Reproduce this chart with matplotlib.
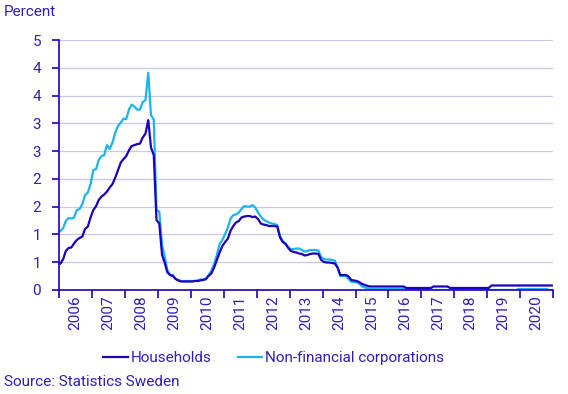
import pandas as pd
import matplotlib.pyplot as plt
import matplotlib.dates as mdates
from matplotlib.ticker import FixedLocator, FormatStrFormatter

plt.rcParams['font.family'] = ['Roboto', 'DejaVu Sans']

# monthly deposit rates, Jan 2006 - Dec 2020
months = pd.date_range('2006-01-01', periods=180, freq='MS')

households = [
    0.53, 0.62, 0.78, 0.84, 0.85, 0.93, 1.00, 1.04, 1.07, 1.22, 1.27, 1.45,
    1.60, 1.68, 1.80, 1.87, 1.91, 1.97, 2.05, 2.12, 2.25, 2.40, 2.55, 2.62,
    2.68, 2.80, 2.88, 2.90, 2.92, 2.93, 3.05, 3.13, 3.40, 2.85, 2.70, 1.40,
    1.33, 0.70, 0.55, 0.35, 0.30, 0.28, 0.22, 0.19, 0.17, 0.17, 0.17, 0.17,
    0.17, 0.18, 0.18, 0.19, 0.20, 0.22, 0.28, 0.33, 0.45, 0.60, 0.75, 0.88,
    0.96, 1.03, 1.18, 1.28, 1.35, 1.38, 1.45, 1.47, 1.48, 1.48, 1.46, 1.47,
    1.42, 1.33, 1.31, 1.30, 1.28, 1.28, 1.28, 1.27, 1.05, 0.96, 0.92, 0.84,
    0.78, 0.76, 0.75, 0.73, 0.72, 0.69, 0.70, 0.72, 0.73, 0.73, 0.72, 0.60,
    0.56, 0.55, 0.55, 0.54, 0.53, 0.45, 0.30, 0.30, 0.30, 0.27, 0.20, 0.19,
    0.18, 0.15, 0.12, 0.10, 0.08, 0.07, 0.07, 0.07, 0.07, 0.07, 0.07, 0.07,
    0.07, 0.07, 0.07, 0.07, 0.07, 0.07, 0.04, 0.04, 0.04, 0.04, 0.04, 0.04,
    0.04, 0.04, 0.04, 0.04, 0.07, 0.07, 0.07, 0.07, 0.07, 0.07, 0.04, 0.04,
    0.04, 0.04, 0.04, 0.04, 0.04, 0.04, 0.04, 0.04, 0.04, 0.04, 0.04, 0.04,
    0.04, 0.09, 0.09, 0.09, 0.09, 0.09, 0.09, 0.09, 0.09, 0.09, 0.09, 0.09,
    0.09, 0.09, 0.09, 0.09, 0.09, 0.09, 0.09, 0.09, 0.09, 0.09, 0.09, 0.09,
]

corporations = [
    1.18, 1.24, 1.38, 1.44, 1.43, 1.45, 1.60, 1.62, 1.72, 1.90, 1.95, 2.12,
    2.40, 2.42, 2.60, 2.68, 2.70, 2.90, 2.82, 2.95, 3.15, 3.28, 3.35, 3.43,
    3.42, 3.62, 3.71, 3.67, 3.61, 3.61, 3.76, 3.80, 4.35, 3.50, 3.41, 1.60,
    1.57, 0.90, 0.68, 0.40, 0.30, 0.30, 0.22, 0.20, 0.18, 0.18, 0.18, 0.18,
    0.18, 0.18, 0.19, 0.21, 0.21, 0.21, 0.30, 0.38, 0.52, 0.70, 0.92, 1.00,
    1.12, 1.25, 1.42, 1.50, 1.51, 1.55, 1.62, 1.68, 1.67, 1.67, 1.70, 1.65,
    1.55, 1.47, 1.41, 1.38, 1.35, 1.33, 1.32, 1.30, 1.08, 0.98, 0.93, 0.86,
    0.81, 0.82, 0.83, 0.83, 0.80, 0.77, 0.78, 0.80, 0.80, 0.80, 0.79, 0.66,
    0.62, 0.61, 0.61, 0.60, 0.59, 0.45, 0.28, 0.28, 0.28, 0.22, 0.16, 0.16,
    0.15, 0.12, 0.07, 0.05, 0.03, 0.02, 0.02, 0.02, 0.02, 0.02, 0.02, 0.02,
    0.02, 0.02, 0.02, 0.02, 0.02, 0.02, 0.00, 0.00, 0.00, 0.00, 0.00, 0.00,
    0.00, 0.00, 0.00, 0.00, 0.00, 0.00, 0.00, 0.00, 0.00, 0.00, 0.00, 0.00,
    0.00, 0.00, 0.00, 0.00, 0.00, 0.00, 0.00, 0.00, 0.00, 0.00, 0.00, 0.00,
    0.00, 0.00, 0.00, 0.00, 0.00, 0.00, 0.00, 0.00, 0.00, 0.00, 0.00, 0.02,
    0.02, 0.02, 0.02, 0.02, 0.02, 0.02, 0.02, 0.02, 0.02, 0.02, 0.00, 0.00,
]

dark = '#1e00be'
light = '#1ab4ee'
txt = '#2d1ec0'
grid = '#c8c8e8'

fig = plt.figure(figsize=(5.68, 3.94), dpi=100)
ax = fig.add_axes([0.104, 0.264, 0.870, 0.634])

# put each month in the middle of its slot
x = months + pd.Timedelta(days=15)
ax.plot(x, households, color=dark, lw=1.6, label='Households', zorder=3)
ax.plot(x, corporations, color=light, lw=1.6, label='Non-financial corporations', zorder=2)

ax.set_xlim(pd.Timestamp('2006-01-01'), pd.Timestamp('2021-01-01'))
ax.set_ylim(0, 5)

# y ticks: 10 evenly spaced, labels rounded to whole numbers
yt = [5 * i / 9 for i in range(10)]
ax.yaxis.set_major_locator(FixedLocator(yt))
ax.yaxis.set_major_formatter(FormatStrFormatter('%.0f'))
ax.grid(axis='y', color=grid, lw=0.9)
ax.set_axisbelow(True)

ax.xaxis.set_major_locator(mdates.YearLocator())
ax.xaxis.set_major_formatter(plt.NullFormatter())
ax.xaxis.set_minor_locator(mdates.MonthLocator(bymonth=7))
ax.xaxis.set_minor_formatter(mdates.DateFormatter('%Y'))
ax.tick_params(axis='x', which='major', length=6, width=1.2, color=dark)
ax.tick_params(axis='x', which='minor', length=0, labelsize=11,
               labelcolor=txt, rotation=90, pad=4)
ax.tick_params(axis='y', length=5, width=1.2, color=dark, labelsize=11,
               labelcolor=txt, pad=8)

for s in ['top', 'right']:
    ax.spines[s].set_visible(False)
for s in ['left', 'bottom']:
    ax.spines[s].set_color(dark)
    ax.spines[s].set_linewidth(1.2)

fig.text(0.007, 0.97, 'Percent', color=txt, fontsize=11, va='center', ha='left')
fig.text(0.007, 0.03, 'Source: Statistics Sweden', color=txt, fontsize=11,
         va='center', ha='left')

fig.legend(loc='center', bbox_to_anchor=(0.482, 0.091), ncol=2, frameon=False,
           fontsize=11, labelcolor=txt, handlelength=1.6, handletextpad=0.2,
           columnspacing=1.7)

fig.savefig('out.png', dpi=100)
